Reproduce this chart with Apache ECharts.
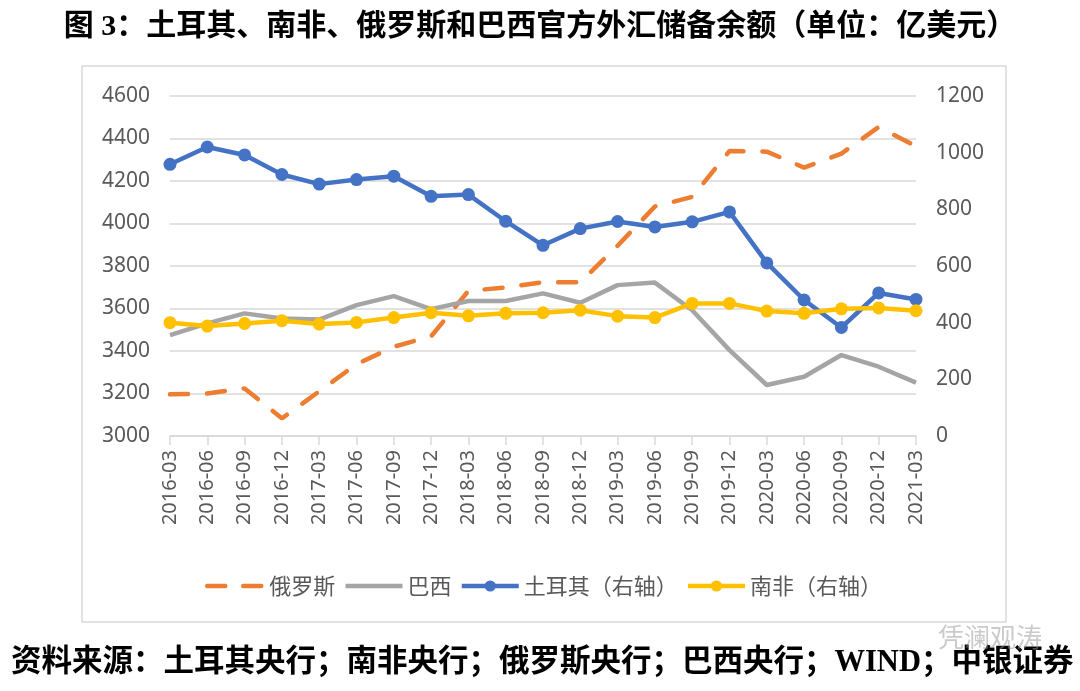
<!DOCTYPE html>
<html>
<head>
<meta charset="utf-8">
<script src="https://cdn.jsdelivr.net/npm/echarts@6/dist/echarts.min.js"></script>
<style>
html,body{margin:0;padding:0;background:#fff;}
#main{width:1080px;height:691px;}
</style>
</head>
<body>
<div id="main"></div>
<script>
const titleText = '图 3：土耳其、南非、俄罗斯和巴西官方外汇储备余额（单位：亿美元）';
const sourceText = '资料来源：土耳其央行；南非央行；俄罗斯央行；巴西央行；WIND；中银证券';
const categories = ['2016-03','2016-06','2016-09','2016-12','2017-03','2017-06','2017-09','2017-12',
  '2018-03','2018-06','2018-09','2018-12','2019-03','2019-06','2019-09','2019-12',
  '2020-03','2020-06','2020-09','2020-12','2021-03'];
const seriesNames = ['俄罗斯','巴西','土耳其（右轴）','南非（右轴）'];
// left axis
const russia = [3196,3200,3224,3083,3210,3338,3420,3469,3683,3699,3724,3724,3895,4080,4125,4341,4338,4263,4329,4454,4363];
const brazil = [3475,3530,3577,3553,3548,3616,3658,3597,3635,3635,3671,3627,3710,3722,3592,3404,3240,3279,3381,3326,3251];
// right axis
const turkey = [959,1020,992,923,889,905,917,846,852,758,673,732,757,738,756,791,611,480,383,505,482];
const safrica = [400,388,397,407,395,401,418,435,424,433,435,444,423,418,468,468,441,433,449,452,442];
const leftTicks = {min:3000, max:4600, interval:200};
const rightTicks = {min:0, max:1200, interval:200};

const chart = echarts.init(document.getElementById('main'), null, {renderer:'canvas'});
const labelColor = '#595959';
const gridColor = '#D9D9D9';
const numFont = "'Noto Sans', sans-serif";
const cjkFont = "'Noto Sans CJK SC', 'Noto Sans', sans-serif";

chart.setOption({
  backgroundColor:'#ffffff',
  animation:false,
  title:{
    text: titleText, left:'center', top:7,
    textStyle:{fontFamily:"'Liberation Serif', 'Noto Sans CJK SC', serif", fontWeight:'bold', fontSize:30, color:'#000'}
  },
  graphic:[
    {type:'rect', shape:{x:82, y:66, width:924, height:556}, style:{fill:'none', stroke:gridColor, lineWidth:1.5}, silent:true, z:-1},
    {type:'text', left:11, top:648, style:{text:sourceText, fontFamily:"'Liberation Serif', 'Noto Sans CJK SC', serif", fontWeight:'bold', fontSize:30.5, fill:'#000'}},
    {type:'text', left:938, top:624, style:{text:'凭澜观涛', fontFamily:cjkFont, fontSize:26, fill:'rgba(150,150,150,0.5)'}, z:10}
  ],
  legend:{
    data: [
      {name:seriesNames[0], itemStyle:{opacity:0}, lineStyle:{width:4.5, type:[18,18], cap:'round'}},
      {name:seriesNames[1], itemStyle:{opacity:0}, lineStyle:{width:4.5}},
      {name:seriesNames[2], lineStyle:{width:4.5}},
      {name:seriesNames[3], lineStyle:{width:4.5}}
    ],
    left:200, top:570,
    itemWidth:57, itemHeight:14, itemGap:8,
    textStyle:{fontFamily:cjkFont, fontSize:22, color:labelColor}
  },
  grid:{left:170, right:164, top:96, bottom:255, containLabel:false},
  xAxis:{
    type:'category', data:categories, boundaryGap:false,
    axisLine:{lineStyle:{color:gridColor, width:1.5}},
    axisTick:{show:true, length:9, lineStyle:{color:gridColor, width:1.5}},
    axisLabel:{rotate:90, margin:14, fontFamily:numFont, fontSize:20, color:labelColor, interval:0}
  },
  yAxis:[
    {type:'value', min:leftTicks.min, max:leftTicks.max, interval:leftTicks.interval,
     axisLine:{show:false}, axisTick:{show:false},
     splitLine:{lineStyle:{color:gridColor, width:1.5}},
     axisLabel:{fontFamily:numFont, fontSize:21, color:labelColor, margin:20, formatter:v=>String(v)}},
    {type:'value', min:rightTicks.min, max:rightTicks.max, interval:rightTicks.interval,
     axisLine:{show:false}, axisTick:{show:false}, splitLine:{show:false},
     axisLabel:{fontFamily:numFont, fontSize:21, color:labelColor, margin:20, formatter:v=>String(v)}}
  ],
  series:[
    {name:seriesNames[0], type:'line', yAxisIndex:0, data:russia, symbol:'none',
     lineStyle:{color:'#ED7D31', width:4.5, type:[18,19], cap:'round'}, itemStyle:{color:'#ED7D31'}},
    {name:seriesNames[1], type:'line', yAxisIndex:0, data:brazil, symbol:'none',
     lineStyle:{color:'#A5A5A5', width:4.5}, itemStyle:{color:'#A5A5A5'}},
    {name:seriesNames[2], type:'line', yAxisIndex:1, data:turkey, symbol:'circle', symbolSize:13,
     lineStyle:{color:'#4472C4', width:4.5}, itemStyle:{color:'#4472C4'}},
    {name:seriesNames[3], type:'line', yAxisIndex:1, data:safrica, symbol:'circle', symbolSize:13,
     lineStyle:{color:'#FFC000', width:4.5}, itemStyle:{color:'#FFC000'}}
  ]
});
</script>
</body>
</html>
